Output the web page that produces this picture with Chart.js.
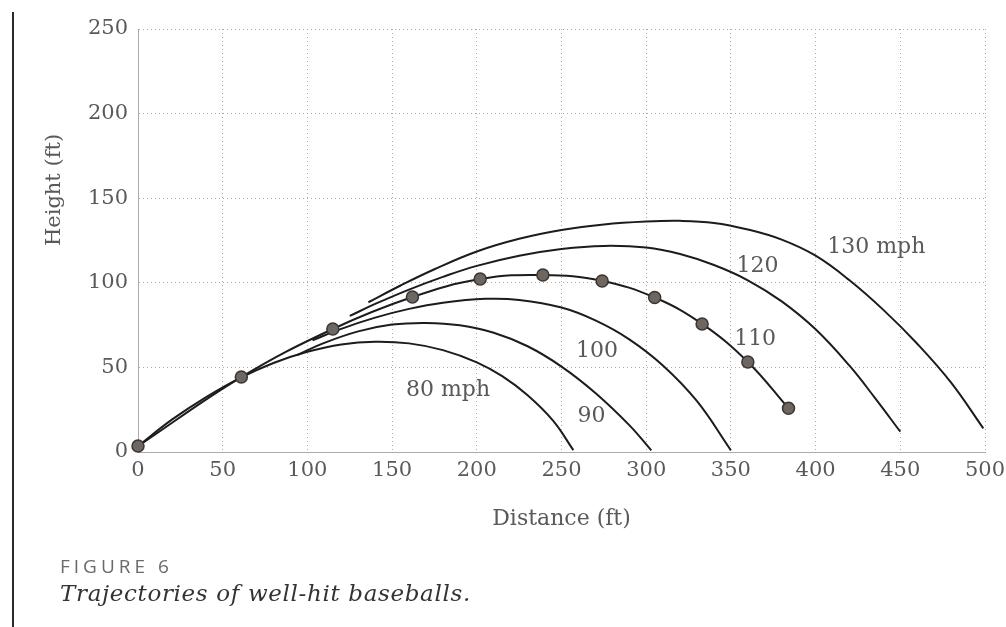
<!DOCTYPE html>
<html>
<head>
<meta charset="utf-8">
<script src="https://cdn.jsdelivr.net/npm/chart.js@4.4.1/dist/chart.umd.min.js"></script>
<style>
  html, body { margin: 0; padding: 0; background: #fff; }
  #wrap { position: relative; width: 1006px; height: 627px; overflow: hidden; background: #fff; }
  #c { position: absolute; left: 0; top: 0; }
  #rule { position: absolute; left: 12px; top: 12px; width: 2px; height: 615px; background: #2a2a2a; }
  #fig { position: absolute; left: 60px; top: 553px; font-family: "Open Sans", sans-serif; font-size: 19px; letter-spacing: 4px; color: #6a6a6a; }
  #cap { position: absolute; left: 60px; top: 580px; font-family: "DejaVu Serif", serif; font-style: italic; font-size: 23px; letter-spacing: 0.65px; color: #333; }
</style>
</head>
<body>
<div id="wrap">
  <canvas id="c" width="1006" height="627"></canvas>
  <div id="rule"></div>
  <div id="fig">FIGURE 6</div>
  <div id="cap">Trajectories of well-hit baseballs.</div>
</div>
<script>
// Tick labels
const xTicks = [0, 50, 100, 150, 200, 250, 300, 350, 400, 450, 500];
const yTicks = [0, 50, 100, 150, 200, 250];

// Trajectories: distance (ft) and height (ft)
const dist80  = [0, 20, 40, 61, 80, 100, 120, 140, 160, 180, 200, 215, 230, 245, 257];
const hgt80   = [3.5, 19.1, 32.3, 44.1, 52.6, 59.2, 63.6, 65.2, 64.2, 60.2, 53, 44.8, 33.5, 18.5, 1.1];

const dist90  = [94, 110, 130, 150, 170, 190, 210, 230, 250, 270, 290, 303];
const hgt90   = [57.3, 64.5, 71.3, 75.3, 76.3, 74.9, 70.5, 62.5, 50.5, 34.9, 15.9, 1];

const dist100 = [103, 120, 140, 160, 180, 205, 225, 250, 270, 290, 310, 330, 350];
const hgt100  = [66, 72.8, 79.4, 84.6, 88.2, 90.5, 89.9, 85.4, 77.8, 66.6, 51, 30, 1];

const dist110 = [0, 61, 115, 162, 202, 239, 274, 305, 333, 360, 384];
const hgt110  = [3.5, 44.3, 72.7, 91.6, 102.2, 104.6, 101.1, 91.3, 75.7, 53.2, 25.8];

const dist120 = [125, 140, 160, 180, 200, 225, 250, 275, 300, 320, 340, 360, 380, 400, 420, 435, 450];
const hgt120  = [80.4, 87.5, 96, 103.5, 110, 116, 120, 121.8, 120.8, 117, 110.5, 101.5, 89, 72.5, 51, 32, 12];

const dist130 = [136, 155, 175, 200, 225, 250, 275, 300, 320, 340, 360, 380, 400, 420, 440, 460, 480, 499];
const hgt130  = [88.5, 98.4, 108, 118.5, 126, 131.2, 134.5, 136.2, 136.6, 135.4, 131.5, 125.5, 116, 101.5, 84, 64, 41, 14];

// Curve labels (text, and anchor in data units)
const curveLabels = ['80 mph', '90', '100', '110', '120', '130 mph'];
const labelDist   = [183, 267.7, 271, 364.3, 365.7, 435.8];
const labelHgt    = [33.1, 17.9, 56.3, 63.2, 106.6, 117.4];

const pts = (xs, ys) => xs.map((x, i) => ({ x: x, y: ys[i] }));

const LINE = '#1c1c1c';
const GRID = '#ababab';
const TXT = '#595959';

function curve(xs, ys, withDots) {
  return {
    data: pts(xs, ys),
    borderColor: LINE,
    borderWidth: 2,
    tension: 0.4,
    pointRadius: withDots ? 6 : 0,
    pointBackgroundColor: '#6d6661',
    pointBorderColor: '#3b3633',
    pointBorderWidth: 1.5,
    clip: false,
    fill: false
  };
}

const overlay = {
  id: 'overlay',
  afterDatasetsDraw(chart) {
    const ctx = chart.ctx;
    const xs = chart.scales.x, ys = chart.scales.y;
    ctx.save();
    ctx.fillStyle = TXT;
    ctx.font = '22px "DejaVu Serif", serif';
    ctx.textAlign = 'center';
    ctx.textBaseline = 'alphabetic';
    curveLabels.forEach((t, i) => {
      ctx.fillText(t, xs.getPixelForValue(labelDist[i]), ys.getPixelForValue(labelHgt[i]));
    });
    // y-axis title
    ctx.translate(55, 190);
    ctx.rotate(-Math.PI / 2);
    ctx.textBaseline = 'middle';
    ctx.font = '21px "DejaVu Serif", serif';
    ctx.fillText('Height (ft)', 0, 0);
    ctx.restore();
  }
};

new Chart(document.getElementById('c'), {
  type: 'line',
  data: {
    datasets: [
      curve(dist110, hgt110, true),
      curve(dist80, hgt80, false),
      curve(dist90, hgt90, false),
      curve(dist100, hgt100, false),
      curve(dist120, hgt120, false),
      curve(dist130, hgt130, false)
    ]
  },
  options: {
    responsive: false,
    animation: false,
    devicePixelRatio: 1,
    layout: { padding: { left: 0, top: 29, right: 21, bottom: 95 } },
    plugins: { legend: { display: false }, tooltip: { enabled: false } },
    scales: {
      x: {
        type: 'linear',
        min: 0, max: 500,
        afterBuildTicks: (s) => { s.ticks = xTicks.map(v => ({ value: v })); },
        afterFit: (s) => { s.height = 80; s.paddingRight = 0; s.paddingLeft = 0; },
        grid: { color: GRID, lineWidth: 1, drawTicks: false },
        border: { display: true, color: GRID, width: 1, dash: [1, 3] },
        ticks: { color: TXT, padding: 6, font: { family: '"DejaVu Serif", serif', size: 21 }, maxRotation: 0 },
        title: { display: true, text: 'Distance (ft)', color: TXT, font: { family: '"DejaVu Serif", serif', size: 22 }, padding: { top: 0, bottom: 0 } }
      },
      y: {
        type: 'linear',
        min: 0, max: 250,
        afterBuildTicks: (s) => { s.ticks = yTicks.map(v => ({ value: v })); },
        afterFit: (s) => { s.width = 138; s.paddingTop = 0; s.paddingBottom = 0; },
        grid: { color: GRID, lineWidth: 1, drawTicks: false },
        border: { display: true, color: GRID, width: 1, dash: [1, 3] },
        ticks: { color: TXT, padding: 10, font: { family: '"DejaVu Serif", serif', size: 21 } }
      }
    }
  },
  plugins: [overlay]
});
</script>
</body>
</html>
